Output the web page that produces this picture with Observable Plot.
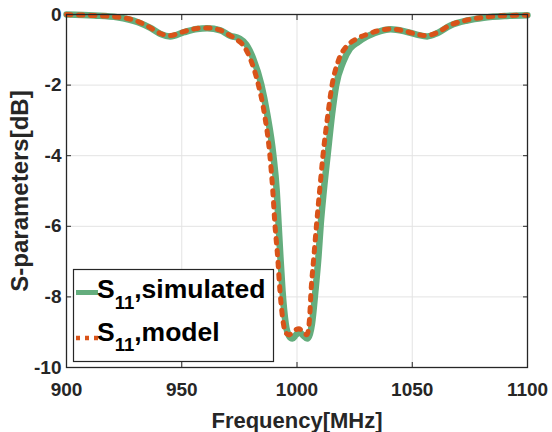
<!DOCTYPE html>
<html>
<head>
<meta charset="utf-8">
<script src="https://cdn.jsdelivr.net/npm/d3@7"></script>
<script src="https://cdn.jsdelivr.net/npm/@observablehq/plot@0.6"></script>
<style>
  html, body { margin: 0; padding: 0; background: #fff; }
  #chart { width: 552px; height: 432px; }
</style>
</head>
<body>
<div id="chart"></div>
<script>
// ---- data ----
const xTicks = [900, 950, 1000, 1050, 1100];
const yTicks = [-10, -8, -6, -4, -2, 0];

const simFreq = [900, 912, 922, 931, 936.4, 940.8, 945, 951, 956.7, 961, 966.8, 971, 975, 978, 981, 984.5, 987.1, 989.7, 991.2, 992, 992.8, 993.7, 995.1, 996.5, 998, 999.5, 1001, 1002.5, 1004.4, 1005.6, 1006.5, 1008, 1009.3, 1010.3, 1011.6, 1013.3, 1015.2, 1017, 1020, 1023, 1026.5, 1030.4, 1036.2, 1040.6, 1046.3, 1052, 1056.5, 1060.8, 1066.6, 1073.8, 1081, 1091, 1100];
const simDb = [0, -0.03, -0.08, -0.22, -0.38, -0.55, -0.62, -0.5, -0.41, -0.39, -0.45, -0.6, -0.68, -0.85, -1.25, -1.98, -2.83, -3.97, -5.0, -5.93, -6.87, -7.82, -8.76, -9.1, -9.18, -9.08, -8.99, -9.08, -9.18, -9.05, -8.76, -7.82, -6.87, -5.93, -5.0, -3.97, -2.83, -2.0, -1.35, -0.97, -0.78, -0.62, -0.47, -0.42, -0.47, -0.57, -0.62, -0.53, -0.31, -0.17, -0.09, -0.04, -0.02];

const modelFreq = [900, 912, 922, 931, 936, 940.5, 944.5, 950.5, 956, 960.5, 966, 970, 973.5, 977, 980, 983.2, 985.9, 988.2, 989.5, 990.4, 991.6, 992.6, 994.1, 995, 996.5, 998, 1000.8, 1003, 1004.3, 1005.4, 1006.1, 1007.3, 1008.5, 1009.8, 1011.3, 1013.4, 1015.2, 1018, 1021.5, 1025, 1030, 1036, 1040.5, 1046, 1052, 1056, 1060.5, 1066.5, 1073.5, 1081, 1091, 1100];
const modelDb = [0, -0.03, -0.07, -0.2, -0.36, -0.53, -0.6, -0.49, -0.4, -0.38, -0.43, -0.56, -0.7, -0.9, -1.3, -1.98, -2.83, -3.97, -5.0, -5.93, -6.87, -7.82, -8.76, -9.0, -9.08, -9.0, -8.9, -9.02, -9.07, -8.65, -7.82, -6.87, -5.93, -5.0, -3.97, -2.83, -2.0, -1.3, -0.9, -0.72, -0.57, -0.45, -0.41, -0.46, -0.56, -0.6, -0.52, -0.3, -0.16, -0.08, -0.03, -0.02];

const seriesNames = ["simulated", "model"];
const xLabel = "Frequency[MHz]";
const yLabel = "S-parameters[dB]";

// ---- build tables ----
const simulated = simFreq.map((f, i) => ({f, v: simDb[i]}));
const model = modelFreq.map((f, i) => ({f, v: modelDb[i]}));

const GREEN = "#64ad7d";
const ORANGE = "#d95319";
const AXIS = "#262626";
const FONT = "'Liberation Sans', Arial, Helvetica, sans-serif";

const chart = Plot.plot({
  width: 552,
  height: 432,
  marginLeft: 66,
  marginRight: 25,
  marginTop: 14,
  marginBottom: 65,
  x: {domain: [900, 1100]},
  y: {domain: [-10, 0]},
  style: {fontFamily: FONT, fontSize: "19px", fontWeight: "bold", color: AXIS, background: "#fff", overflow: "visible"},
  marks: [
    Plot.gridX(xTicks, {stroke: "#e3e3e3", strokeOpacity: 1, strokeWidth: 1}),
    Plot.gridY(yTicks, {stroke: "#e3e3e3", strokeOpacity: 1, strokeWidth: 1}),
    Plot.line(simulated, {x: "f", y: "v", stroke: GREEN, strokeWidth: 6.5, curve: "monotone-x"}),
    Plot.line(model, {x: "f", y: "v", stroke: ORANGE, strokeWidth: 5, strokeDasharray: "4.5,7.5", curve: "monotone-x"}),
    Plot.frame({stroke: AXIS, strokeWidth: 1.3}),
    Plot.axisX(xTicks, {anchor: "bottom", tickSize: -5, tickPadding: 20, tickFormat: d => String(d), label: null, stroke: AXIS}),
    Plot.axisX(xTicks, {anchor: "top", tickSize: -5, tickFormat: () => "", label: null, stroke: AXIS}),
    Plot.axisY(yTicks, {anchor: "left", tickSize: -5, tickPadding: 10, tickFormat: d => String(d), label: null, stroke: AXIS}),
    Plot.axisY(yTicks, {anchor: "right", tickSize: -5, tickFormat: () => "", label: null, stroke: AXIS}),
    Plot.text([xLabel], {text: d => d, frameAnchor: "bottom", dy: 60, lineAnchor: "bottom", textAnchor: "middle", fontSize: 22, fontWeight: "bold", fill: AXIS}),
    Plot.text([yLabel], {text: d => d, frameAnchor: "left", dx: -39, rotate: -90, lineAnchor: "bottom", textAnchor: "middle", fontSize: 24, fontWeight: "bold", fill: AXIS})
  ]
});

document.getElementById("chart").appendChild(chart);

// ---- legend ----
const svg = d3.select(chart);
const lg = svg.append("g").attr("font-family", FONT).attr("font-weight", "bold")
  .attr("fill", "#000").attr("text-anchor", "start");
lg.append("rect").attr("x", 73.5).attr("y", 269.5).attr("width", 200).attr("height", 92)
  .attr("fill", "#fff").attr("stroke", AXIS).attr("stroke-width", 1.2);

const entries = [
  {name: seriesNames[0], color: GREEN, width: 5, dash: null, ly: 292.5, base: 298},
  {name: seriesNames[1], color: ORANGE, width: 4.5, dash: "4,5", ly: 338, base: 340.5}
];
entries.forEach(e => {
  const ln = lg.append("line").attr("x1", 76).attr("x2", 98).attr("y1", e.ly).attr("y2", e.ly)
    .attr("stroke", e.color).attr("stroke-width", e.width);
  if (e.dash) ln.attr("stroke-dasharray", e.dash);
  const t = lg.append("text").attr("x", 97).attr("y", e.base).attr("font-size", 26.5).attr("text-anchor", "start");
  t.append("tspan").text("S");
  t.append("tspan").attr("font-size", 18.5).attr("dy", 10.7).text("11");
  t.append("tspan").attr("dy", -10.7).text("," + e.name);
});
</script>
</body>
</html>
